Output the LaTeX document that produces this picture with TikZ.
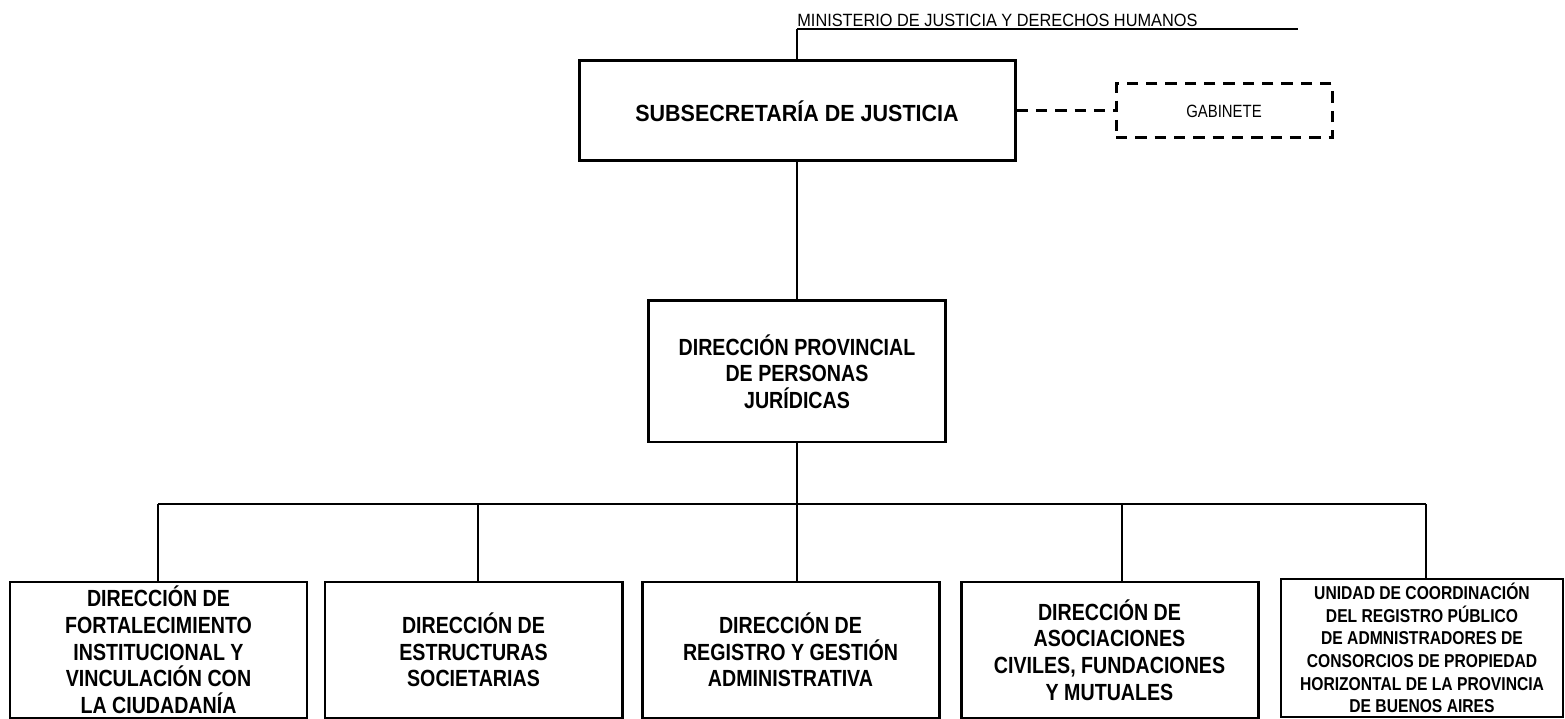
\documentclass[tikz,border=0pt]{standalone}
\usepackage{fontspec}
\setmainfont{Liberation Sans}[FakeStretch=0.84]
\newfontfamily\widesans{Liberation Sans}[FakeStretch=0.92]

\begin{document}
\begin{tikzpicture}[
            ent/.style={draw, line width=1.7pt, rectangle, align=center, inner sep=0pt,
                        font=\fontsize{13.3}{15.2}\selectfont\bfseries},
            dir/.style={ent, minimum width=5.94cm, minimum height=2.72cm},
            gab/.style={draw, line width=1.7pt, dash pattern=on 6.5pt off 4.5pt, rectangle,
                        minimum width=4.32cm, minimum height=1.08cm,
                        font=\fontsize{10.1}{12}\selectfont},
            con/.style={line width=0.8pt}
        ]
           \useasboundingbox (0,0) rectangle (31.3,14.38);

           \coordinate (min) at (15.94,13.8);
           \coordinate (minend) at (25.96,13.8);
           \node[above right, inner xsep=0pt, inner ysep=1pt,
                 font=\widesans\fontsize{10.1}{12}\selectfont] (mintxt) at (min)
                 {MINISTERIO DE JUSTICIA Y DERECHOS HUMANOS};

           \node[ent, minimum width=8.72cm, minimum height=2cm,
                 font=\widesans\fontsize{13.3}{15.2}\selectfont\bfseries] (subsec) at (15.94,12.16)
                 {SUBSECRETARÍA DE JUSTICIA};
           \node[gab] (gabinete) at (24.48,12.16) {GABINETE};

           \node[ent, minimum width=5.94cm, minimum height=2.82cm] (dppj) at (15.94,6.95)
                 {DIRECCIÓN PROVINCIAL \\ DE PERSONAS \\ JURÍDICAS};

           \node[dir] (dfi) at (3.17,1.38)
                 {DIRECCIÓN DE \\ FORTALECIMIENTO \\ INSTITUCIONAL Y \\ VINCULACIÓN CON \\ LA CIUDADANÍA};
           \node[dir] (des) at (9.47,1.38) {DIRECCIÓN DE \\ ESTRUCTURAS \\ SOCIETARIAS};
           \node[dir] (drg) at (15.81,1.38) {DIRECCIÓN DE \\ REGISTRO Y GESTIÓN \\ ADMINISTRATIVA};
           \node[dir] (dac) at (22.19,1.38)
                 {DIRECCIÓN DE \\ ASOCIACIONES \\ CIVILES, FUNDACIONES \\ Y MUTUALES};
           \node[ent, line width=1.4pt, minimum width=5.64cm, minimum height=2.76cm,
                 font=\fontsize{10.6}{12.9}\selectfont\bfseries] (ucr) at (28.44,1.42)
                 {UNIDAD DE COORDINACIÓN \\ DEL REGISTRO PÚBLICO \\ DE ADMNISTRADORES DE \\
                  CONSORCIOS DE PROPIEDAD \\ HORIZONTAL DE LA PROVINCIA \\ DE BUENOS AIRES};

           \coordinate (d1) at (3.16,4.3);
           \coordinate (d2) at (9.56,4.3);
           \coordinate (d3) at (15.94,4.3);
           \coordinate (d4) at (22.44,4.3);
           \coordinate (d5) at (28.52,4.3);

           \draw[con] (min) -- (minend);
           \draw[con] (min) -- (subsec);
           \draw[line width=1.7pt, dash pattern=on 6.5pt off 4.5pt] (subsec) -- (gabinete);
           \draw[con] (subsec) -- (dppj);
           \draw[con] (dppj) -- (d3);
           \draw[con] (d1) -- (d5);
           \draw[con] (d1) -- (d1 |- dfi.north);
           \draw[con] (d2) -- (d2 |- des.north);
           \draw[con] (d3) -- (d3 |- drg.north);
           \draw[con] (d4) -- (d4 |- dac.north);
           \draw[con] (d5) -- (d5 |- ucr.north);
        \end{tikzpicture}
\end{document}
